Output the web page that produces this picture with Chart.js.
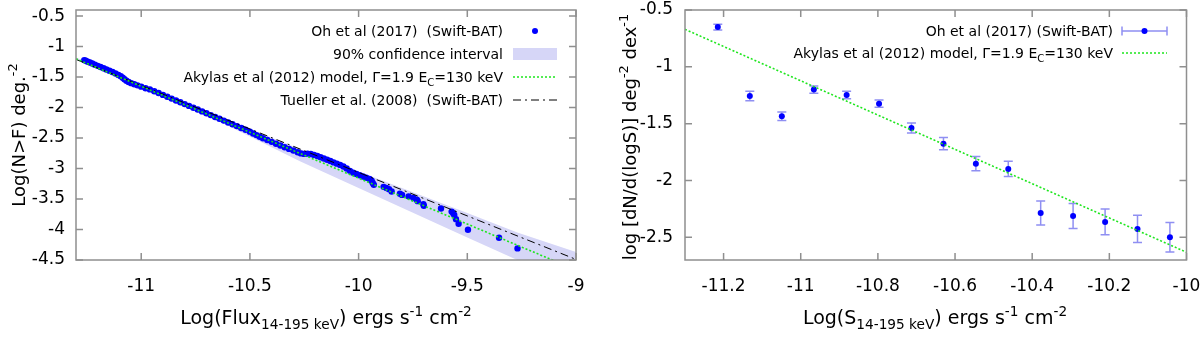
<!DOCTYPE html>
<html>
<head>
<meta charset="utf-8">
<script src="https://cdn.jsdelivr.net/npm/chart.js@4.4.1/dist/chart.umd.min.js"></script>
<style>
html,body{margin:0;padding:0;background:#fff;}
#wrap{position:relative;width:1200px;height:338px;overflow:hidden;}
canvas{position:absolute;top:0;}
#cL{left:0;} #cR{left:600px;}
</style>
</head>
<body>
<div id="wrap">
<canvas id="cL" width="600" height="338"></canvas>
<canvas id="cR" width="600" height="338"></canvas>
</div>
<script>
// ---------- LEFT PANEL DATA : cumulative log N(>F) ----------
const ohX = [-11.262,-11.255,-11.246,-11.236,-11.225,-11.213,-11.2,-11.187,-11.173,-11.16,-11.146,-11.132,-11.118,-11.105,-11.094,-11.085,-11.077,-11.068,-11.058,-11.046,-11.032,-11.017,-11.0,-10.98,-10.96,-10.94,-10.92,-10.9,-10.88,-10.86,-10.84,-10.82,-10.8,-10.78,-10.76,-10.74,-10.72,-10.7,-10.68,-10.66,-10.64,-10.62,-10.6,-10.58,-10.56,-10.54,-10.52,-10.5,-10.485,-10.47,-10.455,-10.44,-10.42,-10.4,-10.38,-10.36,-10.34,-10.32,-10.3,-10.28,-10.265,-10.25,-10.235,-10.22,-10.205,-10.19,-10.175,-10.16,-10.145,-10.13,-10.115,-10.1,-10.085,-10.07,-10.055,-10.04,-10.025,-10.01,-9.995,-9.98,-9.965,-9.95,-9.94,-9.935,-9.93,-9.885,-9.872,-9.86,-9.848,-9.81,-9.8,-9.77,-9.748,-9.732,-9.728,-9.702,-9.7,-9.621,-9.572,-9.565,-9.56,-9.552,-9.54,-9.497,-9.354,-9.269];
const ohY = [-1.222,-1.233,-1.247,-1.262,-1.278,-1.296,-1.316,-1.335,-1.355,-1.376,-1.397,-1.418,-1.44,-1.465,-1.487,-1.51,-1.535,-1.56,-1.582,-1.6,-1.618,-1.636,-1.657,-1.684,-1.702,-1.732,-1.762,-1.792,-1.823,-1.853,-1.883,-1.913,-1.943,-1.973,-2.003,-2.033,-2.063,-2.094,-2.124,-2.154,-2.184,-2.214,-2.244,-2.274,-2.304,-2.335,-2.365,-2.395,-2.425,-2.452,-2.478,-2.503,-2.532,-2.562,-2.594,-2.622,-2.65,-2.678,-2.705,-2.733,-2.752,-2.76,-2.756,-2.762,-2.776,-2.795,-2.815,-2.835,-2.855,-2.876,-2.899,-2.92,-2.94,-2.966,-3.0,-3.038,-3.068,-3.09,-3.11,-3.13,-3.152,-3.172,-3.2,-3.236,-3.265,-3.3,-3.318,-3.338,-3.376,-3.412,-3.432,-3.456,-3.482,-3.512,-3.535,-3.585,-3.61,-3.655,-3.706,-3.732,-3.762,-3.83,-3.905,-4.005,-4.135,-4.31];
const bandX    = [-11.3, -10.6, -10.27, -10.0, -9.5, -9.27, -9.0];
const bandLow  = [-1.22, -2.30, -2.88, -3.32, -4.13, -4.50, -4.93];
const bandHigh = [-1.18, -2.21, -2.68, -3.05, -3.73, -4.05, -4.37];
const akylasLX = [-11.3, -9.0];
const akylasLY = [-1.2, -4.664];
const tuellerX = [-11.3, -9.0];
const tuellerY = [-1.21, -4.49];
const leftXTicks = [-11, -10.5, -10, -9.5, -9];
const leftXLabels = ['-11', '-10.5', '-10', '-9.5', '-9'];
const leftYTicks = [-4.5, -4, -3.5, -3, -2.5, -2, -1.5, -1, -0.5];
const leftYLabels = ['-4.5', '-4', '-3.5', '-3', '-2.5', '-2', '-1.5', '-1', '-0.5'];

// ---------- RIGHT PANEL DATA : differential dN/dlogS ----------
const diffX   = [-11.215,-11.132,-11.049,-10.966,-10.881,-10.797,-10.713,-10.630,-10.546,-10.462,-10.378,-10.294,-10.211,-10.127,-10.043];
const diffY   = [-0.65,-1.257,-1.435,-1.20,-1.248,-1.324,-1.538,-1.676,-1.852,-1.899,-2.286,-2.312,-2.365,-2.427,-2.50];
const diffErr = [0.025,0.041,0.038,0.032,0.032,0.032,0.044,0.053,0.063,0.067,0.105,0.11,0.113,0.12,0.13];
const akylasRX = [-11.3, -10.0];
const akylasRY = [-0.67, -2.632];
const rightXTicks = [-11.2, -11, -10.8, -10.6, -10.4, -10.2, -10];
const rightXLabels = ['-11.2', '-11', '-10.8', '-10.6', '-10.4', '-10.2', '-10'];
const rightYTicks = [-2.5, -2, -1.5, -1, -0.5];
const rightYLabels = ['-2.5', '-2', '-1.5', '-1', '-0.5'];

// ---------- helpers ----------
const FONT = 'DejaVu Sans';
const BLUE = '#0000ff';
const GREEN = '#1ee61e';
const BAND = '#d6d6f7';
const EBAR = '#8f8ff2';
const FRAME = '#8f8f8f';
Chart.defaults.font.family = FONT;
Chart.defaults.color = '#000';

const zip = (xs, ys) => xs.map((x, i) => ({x: x, y: ys[i]}));

function richWidth(ctx, parts, size) {
  let w = 0;
  parts.forEach(p => { ctx.font = (p.s ? size * 0.72 : size) + 'px "' + FONT + '"'; w += ctx.measureText(p.t).width; });
  return w;
}
function drawRich(ctx, parts, x, y, size, align) {
  const w = richWidth(ctx, parts, size);
  let cx = align === 'right' ? x - w : (align === 'center' ? x - w / 2 : x);
  ctx.textAlign = 'left';
  ctx.textBaseline = 'alphabetic';
  ctx.fillStyle = '#000';
  parts.forEach(p => {
    const fs = p.s ? size * 0.72 : size;
    ctx.font = fs + 'px "' + FONT + '"';
    const dy = p.s === 'sub' ? size * 0.28 : (p.s === 'sup' ? -size * 0.42 : 0);
    ctx.fillText(p.t, cx, y + dy);
    cx += ctx.measureText(p.t).width;
  });
}

const framePlugin = {
  id: 'frame',
  afterDatasetsDraw(chart) {
    const {ctx, chartArea: a, scales: {x, y}} = chart;
    ctx.save();
    ctx.strokeStyle = FRAME;
    ctx.lineWidth = 1.5;
    ctx.strokeRect(a.left, a.top, a.right - a.left, a.bottom - a.top);
    ctx.beginPath();
    const L = 7;
    x.ticks.forEach(t => {
      const p = x.getPixelForValue(t.value);
      ctx.moveTo(p, a.bottom); ctx.lineTo(p, a.bottom - L);
      ctx.moveTo(p, a.top); ctx.lineTo(p, a.top + L);
    });
    y.ticks.forEach(t => {
      const p = y.getPixelForValue(t.value);
      ctx.moveTo(a.left, p); ctx.lineTo(a.left + L, p);
      ctx.moveTo(a.right, p); ctx.lineTo(a.right - L, p);
    });
    ctx.stroke();
    ctx.restore();
  }
};

function axisX(min, max, ticks, labels, height, pad) {
  return {
    type: 'linear', min: min, max: max,
    afterBuildTicks: s => { s.ticks = ticks.map(v => ({value: v})); },
    afterFit: s => { s.height = height; s.paddingLeft = 0; s.paddingRight = 0; },
    grid: {display: false, drawTicks: false},
    border: {display: false},
    ticks: {autoSkip: false, maxRotation: 0, padding: pad, font: {size: 17, family: FONT}, color: '#000',
            callback: (v, i) => labels[i]}
  };
}
function axisY(min, max, ticks, labels, width, pad) {
  return {
    type: 'linear', min: min, max: max,
    afterBuildTicks: s => { s.ticks = ticks.map(v => ({value: v})); },
    afterFit: s => { s.width = width; s.paddingTop = 0; s.paddingBottom = 0; },
    grid: {display: false, drawTicks: false},
    border: {display: false},
    ticks: {autoSkip: false, padding: pad, font: {size: 17, family: FONT}, color: '#000',
            callback: (v, i) => labels[i]}
  };
}

// ---------- LEFT CHART ----------
const leftText = {
  id: 'leftText',
  afterDraw(chart) {
    const ctx = chart.ctx;
    ctx.save();
    const xr = 503, s0 = 513, s1 = 557, fs = 14;
    const rows = [31, 54, 77, 100];
    drawRich(ctx, [{t: 'Oh et al (2017)  (Swift-BAT)'}], xr, rows[0] + 5, fs, 'right');
    drawRich(ctx, [{t: '90% confidence interval'}], xr, rows[1] + 5, fs, 'right');
    drawRich(ctx, [{t: 'Akylas et al (2012) model, \u0393=1.9 E'}, {t: 'C', s: 'sub'}, {t: '=130 keV'}], xr, rows[2] + 5, fs, 'right');
    drawRich(ctx, [{t: 'Tueller et al. (2008)  (Swift-BAT)'}], xr, rows[3] + 5, fs, 'right');
    // samples
    ctx.fillStyle = BLUE;
    ctx.beginPath(); ctx.arc((s0 + s1) / 2, rows[0], 3, 0, Math.PI * 2); ctx.fill();
    ctx.fillStyle = BAND;
    ctx.fillRect(s0, rows[1] - 6, s1 - s0, 12);
    ctx.strokeStyle = GREEN; ctx.lineWidth = 1.5; ctx.setLineDash([2, 2]);
    ctx.beginPath(); ctx.moveTo(s0, rows[2]); ctx.lineTo(s1, rows[2]); ctx.stroke();
    ctx.strokeStyle = '#000'; ctx.lineWidth = 1; ctx.setLineDash([8, 4, 2, 4]);
    ctx.beginPath(); ctx.moveTo(s0, rows[3]); ctx.lineTo(s1, rows[3]); ctx.stroke();
    ctx.setLineDash([]);
    // axis titles
    drawRich(ctx, [{t: 'Log(Flux'}, {t: '14-195 keV', s: 'sub'}, {t: ') ergs s'}, {t: '-1', s: 'sup'}, {t: ' cm'}, {t: '-2', s: 'sup'}], 326, 324, 19, 'center');
    ctx.translate(18, 135);
    ctx.rotate(-Math.PI / 2);
    drawRich(ctx, [{t: 'Log(N>F) deg.'}, {t: '-2', s: 'sup'}], 0, 7, 18, 'center');
    ctx.restore();
  }
};

new Chart(document.getElementById('cL'), {
  type: 'scatter',
  data: {
    datasets: [
      {label: 'band low', data: zip(bandX, bandLow), showLine: true, borderWidth: 0, borderColor: 'rgba(0,0,0,0)', pointRadius: 0, fill: false, order: 6},
      {label: 'band high', data: zip(bandX, bandHigh), showLine: true, borderWidth: 0, borderColor: 'rgba(0,0,0,0)', pointRadius: 0, fill: {target: 0}, backgroundColor: BAND, order: 5},
      {label: 'Oh et al (2017)', data: zip(ohX, ohY), pointRadius: 3.2, pointBackgroundColor: BLUE, pointBorderWidth: 0, backgroundColor: BLUE, order: 4},
      {label: 'Tueller', data: zip(tuellerX, tuellerY), showLine: true, borderColor: '#000', borderWidth: 1, borderDash: [8, 4, 2, 4], pointRadius: 0, fill: false, order: 2},
      {label: 'Akylas', data: zip(akylasLX, akylasLY), showLine: true, borderColor: GREEN, borderWidth: 1.6, borderDash: [2, 2], pointRadius: 0, fill: false, order: 1}
    ]
  },
  options: {
    responsive: false, animation: false, events: [],
    layout: {padding: {top: 10, right: 24, left: 0, bottom: 0}},
    plugins: {legend: {display: false}, tooltip: {enabled: false}},
    scales: {
      x: axisX(-11.3, -9, leftXTicks, leftXLabels, 78, 16),
      y: axisY(-4.5, -0.4, leftYTicks, leftYLabels, 76, 11)
    }
  },
  plugins: [framePlugin, leftText]
});

// ---------- RIGHT CHART ----------
const errPlugin = {
  id: 'errbars',
  beforeDatasetsDraw(chart) {
    const {ctx, scales: {x, y}} = chart;
    ctx.save();
    ctx.strokeStyle = EBAR; ctx.lineWidth = 1.5;
    ctx.beginPath();
    diffX.forEach((xv, i) => {
      const px = x.getPixelForValue(xv);
      const pt = y.getPixelForValue(diffY[i] + diffErr[i]);
      const pb = y.getPixelForValue(diffY[i] - diffErr[i]);
      ctx.moveTo(px, pt); ctx.lineTo(px, pb);
      ctx.moveTo(px - 4.5, pt); ctx.lineTo(px + 4.5, pt);
      ctx.moveTo(px - 4.5, pb); ctx.lineTo(px + 4.5, pb);
    });
    ctx.stroke();
    ctx.restore();
  }
};
const rightText = {
  id: 'rightText',
  afterDraw(chart) {
    const ctx = chart.ctx;
    ctx.save();
    const xr = 513, s0 = 522, s1 = 567, fs = 14;
    const rows = [31, 53];
    drawRich(ctx, [{t: 'Oh et al (2017) (Swift-BAT)'}], xr, rows[0] + 5, fs, 'right');
    drawRich(ctx, [{t: 'Akylas et al (2012) model, \u0393=1.9 E'}, {t: 'C', s: 'sub'}, {t: '=130 keV'}], xr, rows[1] + 5, fs, 'right');
    ctx.strokeStyle = EBAR; ctx.lineWidth = 1.5;
    ctx.beginPath();
    ctx.moveTo(s0, rows[0]); ctx.lineTo(s1, rows[0]);
    ctx.moveTo(s0, rows[0] - 4.5); ctx.lineTo(s0, rows[0] + 4.5);
    ctx.moveTo(s1, rows[0] - 4.5); ctx.lineTo(s1, rows[0] + 4.5);
    ctx.stroke();
    ctx.fillStyle = BLUE;
    ctx.beginPath(); ctx.arc((s0 + s1) / 2, rows[0], 3, 0, Math.PI * 2); ctx.fill();
    ctx.strokeStyle = GREEN; ctx.lineWidth = 1.5; ctx.setLineDash([2, 2]);
    ctx.beginPath(); ctx.moveTo(s0, rows[1]); ctx.lineTo(s1, rows[1]); ctx.stroke();
    ctx.setLineDash([]);
    drawRich(ctx, [{t: 'Log(S'}, {t: '14-195 keV', s: 'sub'}, {t: ') ergs s'}, {t: '-1', s: 'sup'}, {t: ' cm'}, {t: '-2', s: 'sup'}], 335, 324, 19, 'center');
    ctx.translate(29, 137);
    ctx.rotate(-Math.PI / 2);
    drawRich(ctx, [{t: 'log [dN/d(logS)] deg'}, {t: '-2', s: 'sup'}, {t: ' dex'}, {t: '-1', s: 'sup'}], 0, 7, 18, 'center');
    ctx.restore();
  }
};

new Chart(document.getElementById('cR'), {
  type: 'scatter',
  data: {
    datasets: [
      {label: 'Oh et al (2017)', data: zip(diffX, diffY), pointRadius: 3, pointBackgroundColor: BLUE, pointBorderWidth: 0, backgroundColor: BLUE, order: 2},
      {label: 'Akylas', data: zip(akylasRX, akylasRY), showLine: true, borderColor: GREEN, borderWidth: 1.6, borderDash: [2, 2], pointRadius: 0, fill: false, order: 1}
    ]
  },
  options: {
    responsive: false, animation: false, events: [],
    layout: {padding: {top: 10, right: 13.5, left: 0, bottom: 0}},
    plugins: {legend: {display: false}, tooltip: {enabled: false}},
    scales: {
      x: axisX(-11.3, -10, rightXTicks, rightXLabels, 78, 16),
      y: axisY(-2.7, -0.5, rightYTicks, rightYLabels, 85, 12)
    }
  },
  plugins: [framePlugin, errPlugin, rightText]
});
</script>
</body>
</html>
